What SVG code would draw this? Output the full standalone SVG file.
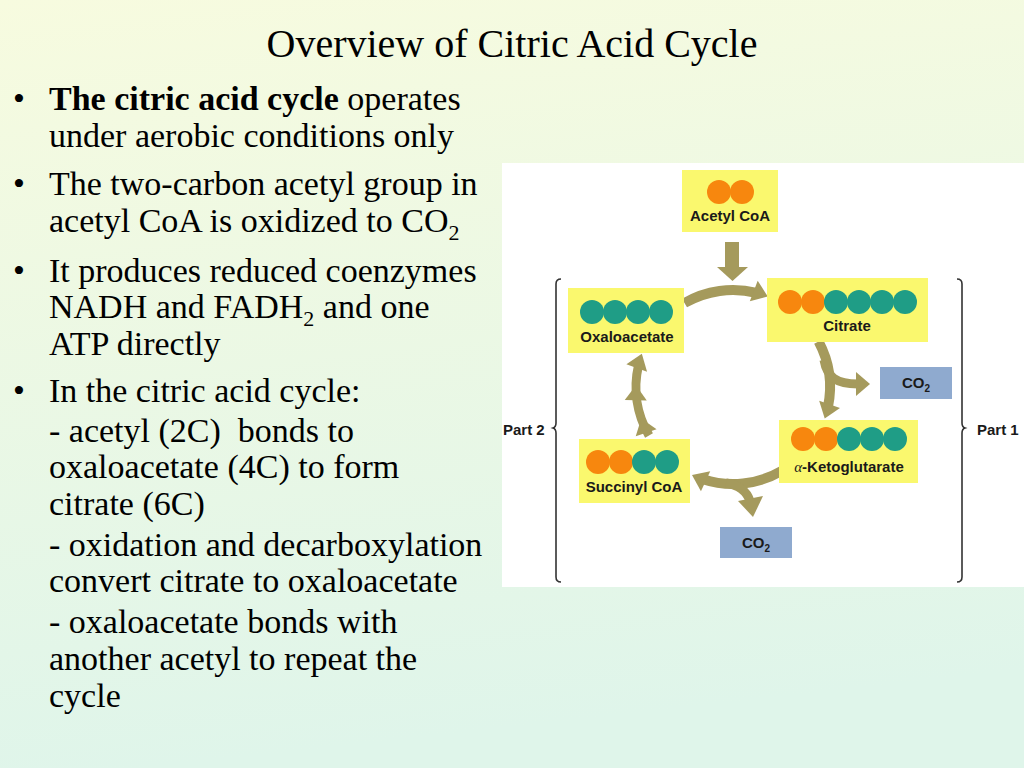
<svg xmlns="http://www.w3.org/2000/svg" width="1024" height="768" viewBox="0 0 1024 768">
<defs>
<linearGradient id="bg" x1="0" y1="0" x2="0.15" y2="1">
<stop offset="0" stop-color="#f7fbdf"/>
<stop offset="1" stop-color="#dff5ea"/>
</linearGradient>
<polygon id="head" points="819,372 841,372 830,387"/>
<style>
.body{font-family:"Liberation Serif","Times New Roman",serif;font-size:34px;fill:#000}
.title{font-family:"Liberation Serif","Times New Roman",serif;font-size:40px;fill:#000}
.box{fill:#faf86e}
.or{fill:#f7870e}
.tl{fill:#1f9d86}
.co2{fill:#8faacf}
.lbl{font-family:"Liberation Sans",Arial,sans-serif;font-weight:bold;font-size:15px;fill:#1a1a1a;text-anchor:middle}
.part{font-family:"Liberation Sans",Arial,sans-serif;font-weight:bold;font-size:15px;fill:#1a1a1a}
.arc{fill:none;stroke:#a59a5c;stroke-width:10}
.ah{fill:#a59a5c}
.br{fill:none;stroke:#333;stroke-width:1.6}
</style>
</defs>
<rect width="1024" height="768" fill="url(#bg)"/>
<text class="title" x="512" y="57" text-anchor="middle">Overview of Citric Acid Cycle</text>
<g id="bullets">
<text class="body" x="13" y="110">•</text>
<text class="body" x="49" y="110"><tspan font-weight="bold">The citric acid cycle</tspan> operates</text>
<text class="body" x="49" y="147">under aerobic conditions only</text>
<text class="body" x="13" y="195">•</text>
<text class="body" x="49" y="195">The two-carbon acetyl group in</text>
<text class="body" x="49" y="232">acetyl CoA is oxidized to CO<tspan font-size="22" dy="8">2</tspan></text>
<text class="body" x="13" y="282">•</text>
<text class="body" x="49" y="282">It produces reduced coenzymes</text>
<text class="body" x="49" y="318">NADH and FADH<tspan font-size="22" dy="8">2</tspan><tspan dy="-8"> and one</tspan></text>
<text class="body" x="49" y="355">ATP directly</text>
<text class="body" x="13" y="402">•</text>
<text class="body" x="49" y="402">In the citric acid cycle:</text>
<text class="body" x="49" y="442" xml:space="preserve">- acetyl (2C)  bonds to</text>
<text class="body" x="49" y="478">oxaloacetate (4C) to form</text>
<text class="body" x="49" y="515">citrate (6C)</text>
<text class="body" x="49" y="556">- oxidation and decarboxylation</text>
<text class="body" x="49" y="592">convert citrate to oxaloacetate</text>
<text class="body" x="49" y="633">- oxaloacetate bonds with</text>
<text class="body" x="49" y="670">another acetyl to repeat the</text>
<text class="body" x="49" y="707">cycle</text>
</g>
<rect x="502" y="163" width="522" height="424" fill="#ffffff"/>
<g id="connectors">
<rect class="ah" x="725" y="242" width="14" height="26"/>
<polygon class="ah" points="717,267 748,267 732.5,281"/>
<path class="arc" d="M684.5,303 A97,97 0 0 1 756.5,292.9"/>
<use href="#head" class="ah" transform="rotate(-69 733 387)"/>
<path class="arc" d="M818.6,341.5 A97,97 0 0 1 827.9,407.2"/>
<use href="#head" class="ah" transform="rotate(19 733 387)"/>
<path class="arc" style="stroke-width:9" d="M824,360 C827,377 836,384 858,384"/>
<polygon class="ah" points="856,372 856,396 870,384"/>
<path class="arc" d="M781.5,471 A97,97 0 0 1 703,479.3"/>
<use href="#head" class="ah" transform="rotate(115 733 387)"/>
<path class="arc" style="stroke-width:9" d="M726,483 Q745,486 750,501"/>
<polygon class="ah" points="738,501 763,496 753,517"/>
<path class="arc" style="stroke-width:9" d="M649,435.5 A97,97 0 0 1 638.5,365.2"/>
<use href="#head" class="ah" transform="rotate(161 733 387)"/>
<use href="#head" class="ah" transform="rotate(181 733 387)"/>
<use href="#head" class="ah" transform="rotate(200 733 387)"/>
</g>
<g id="acetylcoa">
<rect class="box" x="682" y="170" width="96" height="62"/>
<circle class="or" cx="719" cy="192" r="12"/>
<circle class="or" cx="742" cy="192" r="12"/>
<text class="lbl" x="730" y="221">Acetyl CoA</text>
</g>
<g id="citrate">
<rect class="box" x="767" y="278" width="161" height="64"/>
<circle class="or" cx="790" cy="302" r="12"/>
<circle class="or" cx="813" cy="302" r="12"/>
<circle class="tl" cx="836" cy="302" r="12"/>
<circle class="tl" cx="859" cy="302" r="12"/>
<circle class="tl" cx="882" cy="302" r="12"/>
<circle class="tl" cx="905" cy="302" r="12"/>
<text class="lbl" x="847" y="331">Citrate</text>
</g>
<g id="oxaloacetate">
<rect class="box" x="568" y="288" width="116" height="65"/>
<circle class="tl" cx="592" cy="312" r="12"/>
<circle class="tl" cx="615" cy="312" r="12"/>
<circle class="tl" cx="638" cy="312" r="12"/>
<circle class="tl" cx="661" cy="312" r="12"/>
<text class="lbl" x="627" y="342">Oxaloacetate</text>
</g>
<g id="ketoglutarate">
<rect class="box" x="779" y="420" width="139" height="63"/>
<circle class="or" cx="803" cy="439" r="12"/>
<circle class="or" cx="826" cy="439" r="12"/>
<circle class="tl" cx="849" cy="439" r="12"/>
<circle class="tl" cx="872" cy="439" r="12"/>
<circle class="tl" cx="895" cy="439" r="12"/>
<text class="lbl" x="849" y="472"><tspan font-family="'Liberation Serif',serif" font-style="italic" font-weight="normal">α</tspan>-Ketoglutarate</text>
</g>
<g id="succinylcoa">
<rect class="box" x="579" y="439" width="111" height="64"/>
<circle class="or" cx="598" cy="462" r="12"/>
<circle class="or" cx="621" cy="462" r="12"/>
<circle class="tl" cx="644" cy="462" r="12"/>
<circle class="tl" cx="667" cy="462" r="12"/>
<text class="lbl" x="634" y="492">Succinyl CoA</text>
</g>
<g id="co2-right">
<rect class="co2" x="880" y="367" width="72" height="32"/>
<text class="lbl" x="916" y="388">CO<tspan font-size="10" dy="4">2</tspan></text>
</g>
<g id="co2-bottom">
<rect class="co2" x="720" y="527" width="72" height="31"/>
<text class="lbl" x="756" y="548">CO<tspan font-size="10" dy="4">2</tspan></text>
</g>
<g id="part2">
<path class="br" d="M561,279 Q556,279 556,284 L556,423 Q556,427 553,428 Q556,429 556,433 L556,577 Q556,582 561,582"/>
<text class="part" x="503" y="435">Part 2</text>
</g>
<g id="part1">
<path class="br" d="M957,279 Q962,279 962,284 L962,423 Q962,427 965,428 Q962,429 962,433 L962,577 Q962,582 957,582"/>
<text class="part" x="977" y="435">Part 1</text>
</g>
</svg>
